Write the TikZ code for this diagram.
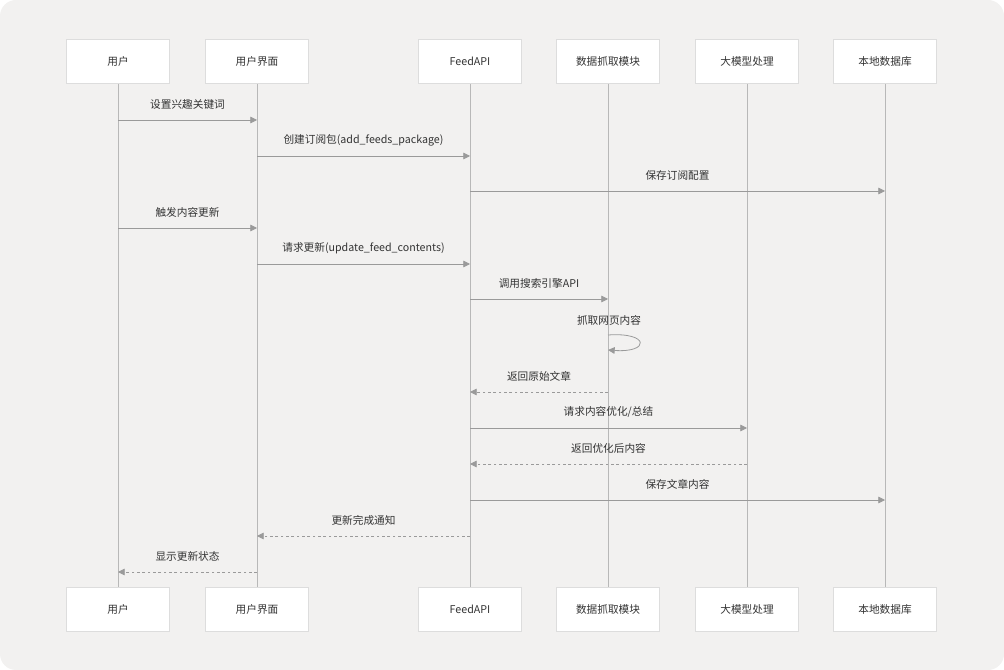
\documentclass[tikz,border=0pt]{standalone}
\usepackage{fontspec}
\setmainfont{Noto Sans CJK SC}
\usetikzlibrary{arrows.meta,calc}
\definecolor{bg}{HTML}{F2F1F0}
\definecolor{ln}{HTML}{9A9A9A}
\definecolor{bd}{HTML}{DDDDDD}
\definecolor{tx}{HTML}{333333}
\tikzset{
  part/.style={draw=bd, fill=white, minimum width=77pt, minimum height=33pt, font=\fontsize{8}{10}\selectfont, text=tx, inner sep=0pt},
  life/.style={draw=ln!70, line width=0.7pt},
  msg/.style={draw=ln, line width=0.6pt, -{Triangle[length=5pt,width=5pt]}},
  ret/.style={msg, dash pattern=on 2pt off 2pt},
  lab/.style={font=\fontsize{8}{10}\selectfont, text=tx, inner sep=0pt}
}
\begin{document}
\begin{tikzpicture}[x=0.75pt,y=-0.75pt]
\useasboundingbox (0,0) rectangle (1004,670);
\fill[bg, rounded corners=12pt] (0,0) rectangle (1004,670);
\foreach \n/\x/\t in {a/118/用户,b/257/用户界面,c/470/FeedAPI,d/608/数据抓取模块,e/747/大模型处理,f/885/本地数据库}{
  \draw[life] (\x,83) -- (\x,587);
  \node[part] (\n t) at (\x,61) {\t};
  \node[part] (\n b) at (\x,609) {\t};
}
\foreach \s/\d/\y/\st/\t in {
 a/b/120/msg/设置兴趣关键词,
 b/c/156/msg/创建订阅包(add\_feeds\_package),
 c/f/191/msg/保存订阅配置,
 a/b/228/msg/触发内容更新,
 b/c/264/msg/请求更新(update\_feed\_contents),
 c/d/299/msg/调用搜索引擎API,
 d/c/392/ret/返回原始文章,
 c/e/428/msg/{请求内容优化/总结},
 e/c/464/ret/返回优化后内容,
 c/f/500/msg/保存文章内容,
 c/b/536/ret/更新完成通知,
 b/a/572/ret/显示更新状态}{
 \coordinate (p1) at (\s t |- 0,\y);
 \coordinate (p2) at (\d t |- 0,\y);
 \draw[\st] (p1) -- (p2);
 \node[lab] at ($(p1)!0.5!(p2)+(0,-16)$) {\t};
}
\coordinate (l1) at (608,335);
\coordinate (l2) at (608,350);
\draw[msg] (l1) .. controls (650,332) and (650,353) .. (l2);
\node[lab] at (609,320) {抓取网页内容};
\end{tikzpicture}
\end{document}
